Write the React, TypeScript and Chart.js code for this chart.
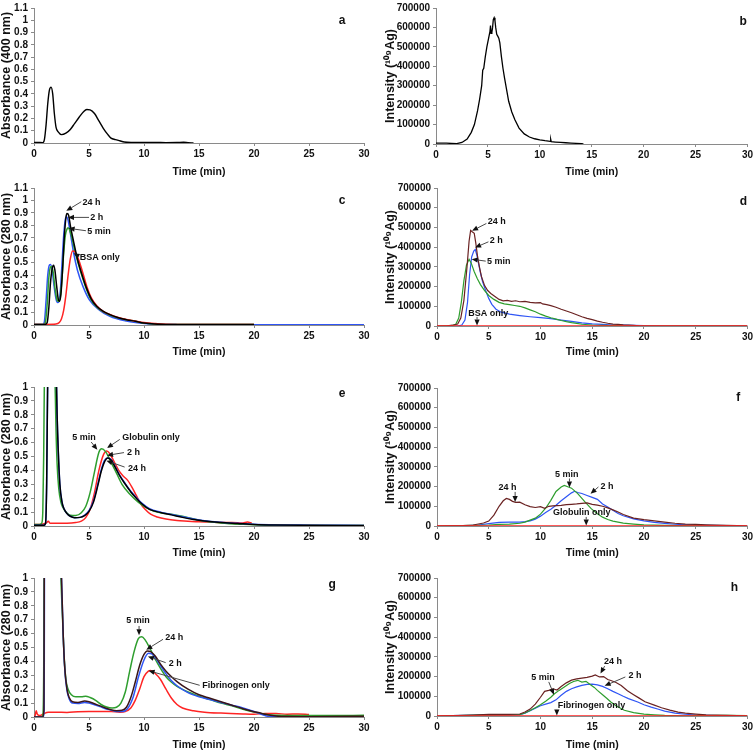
import React, { useEffect, useRef } from "react";
import { Chart, registerables } from "chart.js";
Chart.register(...registerables);

const FONT = "'Liberation Sans', Arial, Helvetica, sans-serif";
const BLACK = "#000000";
const BLUE = "#2f55f5";
const GREEN = "#2e9e2e";
const RED = "#ff2424";
const MAROON = "#6a2222";
const DARK = "#3a1518";

const xTicks = [0, 5, 10, 15, 20, 25, 30];
const absTicks11 = [0, 0.1, 0.2, 0.3, 0.4, 0.5, 0.6, 0.7, 0.8, 0.9, 1, 1.1];
const absTicks10 = [0, 0.1, 0.2, 0.3, 0.4, 0.5, 0.6, 0.7, 0.8, 0.9, 1];
const intTicks = [0, 100000, 200000, 300000, 400000, 500000, 600000, 700000];

// ---------- panel a: absorbance 400 nm
const aTime = [0, 0.4, 0.8, 0.95, 1.1, 1.25, 1.4, 1.55, 1.7, 1.85, 2.0, 2.2, 2.5, 2.9, 3.3, 3.7, 4.1, 4.5, 4.8, 5.1, 5.5, 5.9, 6.3, 6.7, 7.0, 7.4, 7.8, 8.2, 9, 10, 11, 12, 13, 13.6, 14, 14.5];
const aAbs = [0.005, 0.004, 0.003, 0.03, 0.15, 0.32, 0.43, 0.455, 0.4, 0.24, 0.13, 0.09, 0.068, 0.08, 0.11, 0.16, 0.21, 0.255, 0.273, 0.27, 0.24, 0.18, 0.12, 0.07, 0.04, 0.028, 0.018, 0.008, 0.005, 0.004, 0.004, 0.003, 0.004, 0.006, 0.003, 0];

// ---------- panel b: intensity 109Ag
const bTime = [0, 0.5, 1, 1.5, 2, 2.5, 3, 3.4, 3.7, 4.0, 4.2, 4.4, 4.5, 4.6, 4.75, 4.9, 5.05, 5.2, 5.25, 5.3, 5.38, 5.45, 5.52, 5.6, 5.68, 5.75, 5.85, 5.95, 6.05, 6.15, 6.3, 6.45, 6.6, 6.8, 7.0, 7.3, 7.6, 8.0, 8.5, 9.0, 9.5, 10, 10.5, 11.0, 11.05, 11.1, 11.5, 12, 12.5, 13, 13.5, 14, 14.2];
const bInt = [5000, 4000, 4000, 3000, 2000, 8000, 25000, 60000, 100000, 170000, 230000, 300000, 380000, 390000, 450000, 500000, 540000, 580000, 610000, 570000, 575000, 600000, 640000, 650000, 635000, 600000, 565000, 555000, 545000, 520000, 450000, 390000, 340000, 280000, 220000, 165000, 125000, 82000, 52000, 36000, 27000, 21000, 17000, 14000, 24000, 12000, 10000, 8000, 6500, 5000, 3500, 2000, 0];

// ---------- panel c: BSA, absorbance 280 nm
const c24hT = [0, 1.0, 1.2, 1.35, 1.5, 1.65, 1.78, 1.9, 2.05, 2.2, 2.3, 2.45, 2.6, 2.75, 2.9, 3.0, 3.15, 3.3, 3.6, 3.95, 4.45, 4.8, 5.2, 5.7, 6.3, 6.9, 7.6, 8.4, 9.2, 10, 11, 12, 20];
const c24hV = [0.005, 0.005, 0.02, 0.14, 0.34, 0.45, 0.48, 0.44, 0.32, 0.21, 0.19, 0.25, 0.45, 0.7, 0.86, 0.895, 0.88, 0.8, 0.67, 0.53, 0.38, 0.29, 0.21, 0.15, 0.11, 0.083, 0.06, 0.043, 0.03, 0.016, 0.008, 0.005, 0.004];
const c2hT = [0, 0.8, 0.95, 1.1, 1.25, 1.4, 1.5, 1.65, 1.8, 2.0, 2.15, 2.25, 2.4, 2.55, 2.7, 2.85, 2.95, 3.1, 3.3, 3.6, 3.95, 4.45, 5.05, 5.95, 6.9, 8.4, 9.6, 11, 13, 30];
const c2hV = [0.005, 0.005, 0.03, 0.2, 0.4, 0.48, 0.485, 0.44, 0.33, 0.21, 0.18, 0.185, 0.28, 0.5, 0.72, 0.85, 0.87, 0.84, 0.74, 0.58, 0.44, 0.31, 0.2, 0.12, 0.07, 0.032, 0.016, 0.006, 0.003, 0.002];
const c5mT = [0, 0.9, 1.05, 1.2, 1.35, 1.5, 1.6, 1.75, 1.9, 2.1, 2.25, 2.4, 2.55, 2.7, 2.85, 3.0, 3.1, 3.25, 3.45, 3.7, 4.0, 4.45, 4.8, 5.2, 5.7, 6.3, 6.9, 7.6, 8.4, 9.2, 10, 11, 12, 20];
const c5mV = [0.005, 0.005, 0.03, 0.17, 0.38, 0.465, 0.47, 0.42, 0.3, 0.2, 0.19, 0.23, 0.38, 0.58, 0.72, 0.77, 0.78, 0.76, 0.7, 0.6, 0.5, 0.37, 0.28, 0.2, 0.145, 0.105, 0.08, 0.058, 0.042, 0.03, 0.016, 0.008, 0.005, 0.004];
const cBsaT = [0, 1, 2, 2.3, 2.5, 2.7, 2.9, 3.1, 3.3, 3.5, 3.7, 4.0, 4.4, 4.8, 5.2, 5.7, 6.3, 6.9, 7.6, 8.4, 9.2, 10, 11, 12, 14, 16, 18, 20];
const cBsaV = [0.005, 0.005, 0.008, 0.02, 0.05, 0.12, 0.24, 0.4, 0.53, 0.595, 0.59, 0.54, 0.43, 0.31, 0.22, 0.155, 0.11, 0.085, 0.062, 0.045, 0.032, 0.02, 0.012, 0.007, 0.005, 0.005, 0.005, 0.005];

// ---------- panel d: BSA, intensity
const d24hT = [0, 1, 1.5, 2, 2.3, 2.6, 2.9, 3.1, 3.25, 3.4, 3.6, 3.75, 3.9, 4.1, 4.3, 4.6, 4.9, 5.2, 5.6, 6.0, 6.4, 6.8, 7.2, 7.6, 8.0, 8.5, 9.0, 9.5, 10.0, 10.2, 10.6, 11, 11.5, 12, 12.5, 13, 13.5, 14, 14.5, 15, 15.5, 16, 16.5, 17, 17.5, 18, 18.5, 19, 19.5, 20, 30];
const d24hV = [0, 1000, 4000, 10000, 40000, 130000, 300000, 430000, 485000, 478000, 470000, 420000, 360000, 300000, 250000, 205000, 180000, 165000, 150000, 135000, 128000, 130000, 125000, 128000, 123000, 125000, 120000, 117000, 119000, 112000, 108000, 103000, 95000, 85000, 76000, 67000, 57000, 47000, 39000, 32000, 25000, 19000, 14000, 10000, 8000, 6000, 5000, 3000, 1000, 0, 0];
const d2hT = [0, 2, 2.4, 2.7, 2.95, 3.15, 3.35, 3.55, 3.7, 3.85, 4.0, 4.2, 4.4, 4.7, 5.0, 5.3, 5.7, 6.2, 7, 8, 9, 10, 11, 12, 13, 14, 15, 16, 17, 18, 19, 20, 21, 22, 30];
const d2hV = [0, 0, 5000, 30000, 120000, 260000, 350000, 380000, 388000, 360000, 320000, 270000, 225000, 180000, 140000, 110000, 85000, 70000, 60000, 53000, 47000, 42000, 37000, 30000, 23000, 16000, 11000, 8000, 5000, 4000, 3000, 2000, 1000, 0, 0];
const d5mT = [0, 1.5, 1.8, 2.1, 2.35, 2.6, 2.85, 3.1, 3.3, 3.6, 3.9, 4.2, 4.6, 5.0, 5.5, 6.0, 6.5, 7, 7.5, 8, 8.5, 9, 9.5, 10, 10.5, 11, 11.5, 12, 12.5, 13, 13.5, 14, 15, 16, 17, 18, 19, 30];
const d5mV = [0, 2000, 8000, 40000, 120000, 230000, 310000, 338000, 320000, 275000, 240000, 210000, 180000, 155000, 135000, 120000, 112000, 108000, 104000, 100000, 92000, 82000, 72000, 60000, 50000, 42000, 35000, 28000, 22000, 17000, 13000, 9000, 5000, 3000, 2000, 1000, 0, 0];
const dBsaT = [0, 30];
const dBsaV = [0, 0];

// ---------- panel e: globulin, absorbance 280 nm
const e5mT = [0, 0.5, 0.7, 0.8, 0.88, 0.95, 1.1, 1.8, 1.9, 2.0, 2.1, 2.25, 2.45, 2.65, 2.9, 3.3, 3.8, 4.3, 4.7, 5.1, 5.5, 5.9, 6.15, 6.5, 7.0, 7.5, 8.0, 8.7, 9.5, 10.5, 11.5, 12.5, 13.5, 15, 17, 19, 21, 25, 30];
const e5mV = [0.01, 0.01, 0.02, 0.1, 0.5, 1.1, 1.5, 1.5, 1.1, 0.7, 0.45, 0.27, 0.17, 0.13, 0.1, 0.077, 0.075, 0.095, 0.14, 0.24, 0.39, 0.53, 0.555, 0.535, 0.46, 0.38, 0.3, 0.23, 0.17, 0.12, 0.095, 0.085, 0.07, 0.042, 0.022, 0.012, 0.006, 0.004, 0.004];
const eDarkT = [0, 0.9, 1.05, 1.15, 1.25, 1.4, 1.9, 2.0, 2.1, 2.2, 2.35, 2.55, 2.75, 3.0, 3.3, 3.7, 4.2, 4.6, 5.0, 5.4, 5.8, 6.1, 6.4, 6.7, 7.0, 7.4, 7.8, 8.3, 8.8, 9.3, 9.8, 10.5, 11.5, 12.5, 13.5, 14.5, 15.5, 17, 18.5, 20, 22, 25, 30];
const e24hV = [0.005, 0.005, 0.02, 0.3, 1.1, 1.5, 1.5, 1.2, 0.8, 0.55, 0.3, 0.17, 0.12, 0.09, 0.07, 0.06, 0.062, 0.075, 0.105, 0.17, 0.29, 0.39, 0.46, 0.49, 0.475, 0.42, 0.36, 0.3, 0.245, 0.2, 0.16, 0.12, 0.097, 0.08, 0.062, 0.047, 0.036, 0.025, 0.018, 0.011, 0.007, 0.005, 0.004];
const e2hV = [0.005, 0.005, 0.02, 0.3, 1.1, 1.5, 1.5, 1.2, 0.8, 0.55, 0.3, 0.17, 0.12, 0.09, 0.07, 0.06, 0.062, 0.078, 0.11, 0.18, 0.3, 0.4, 0.47, 0.49, 0.48, 0.425, 0.365, 0.305, 0.25, 0.205, 0.165, 0.125, 0.1, 0.083, 0.066, 0.05, 0.038, 0.027, 0.019, 0.012, 0.008, 0.006, 0.004];
const eGloT = [0, 0.5, 0.8, 1.1, 1.3, 1.45, 2, 3, 3.8, 4.3, 4.7, 5.1, 5.5, 5.9, 6.3, 6.6, 6.9, 7.3, 7.7, 8.1, 8.5, 8.9, 9.3, 9.7, 10.1, 10.6, 11.2, 12, 13, 14, 15, 16, 17, 18, 19, 19.4, 19.8];
const eGloV = [0.01, 0.01, 0.015, 0.02, 0.035, 0.02, 0.02, 0.02, 0.025, 0.035, 0.06, 0.12, 0.24, 0.4, 0.51, 0.54, 0.52, 0.46, 0.4, 0.36, 0.33, 0.28, 0.22, 0.16, 0.12, 0.085, 0.065, 0.05, 0.04, 0.035, 0.03, 0.028, 0.025, 0.025, 0.022, 0.028, 0.022];

// ---------- panel f: globulin, intensity
const f24hT = [0, 2.5, 3.5, 4.5, 5.0, 5.5, 6.0, 6.4, 6.7, 7.0, 7.3, 7.6, 8.0, 8.5, 9.0, 9.5, 10.0, 10.4, 10.8, 11.2, 12, 12.5, 13, 13.5, 14, 14.5, 15, 15.5, 16, 16.5, 17, 17.5, 18, 19, 20, 21, 22, 23, 24, 25, 26, 27, 28, 29, 30];
const f24hV = [0, 2000, 5000, 15000, 25000, 55000, 100000, 128000, 140000, 135000, 125000, 120000, 121000, 108000, 98000, 94000, 98000, 90000, 100000, 102000, 105000, 108000, 110000, 112000, 115000, 117000, 110000, 106000, 100000, 92000, 82000, 71000, 58000, 40000, 32000, 26000, 20000, 14000, 10000, 8000, 6000, 4000, 3000, 2000, 0];
const f2hT = [0, 3, 4, 5, 6, 7, 8, 8.5, 9, 9.5, 10, 10.5, 11, 11.5, 12, 12.5, 13, 13.3, 13.6, 14, 14.5, 15, 15.5, 16, 16.5, 17, 17.5, 18, 19, 20, 21, 22, 23, 24, 25, 26, 28, 30];
const f2hV = [0, 2000, 5000, 12000, 18000, 20000, 20000, 22000, 26000, 35000, 50000, 68000, 85000, 105000, 128000, 148000, 168000, 176000, 170000, 165000, 155000, 145000, 135000, 112000, 96000, 80000, 63000, 52000, 36000, 26000, 18000, 13000, 9000, 6000, 4000, 3000, 2000, 0];
const f5mT = [0, 5, 6, 7, 8, 8.5, 9, 9.5, 10, 10.5, 11, 11.5, 12, 12.3, 12.7, 13, 13.6, 14.3, 14.9, 15.5, 16, 16.5, 17, 18, 19, 20, 21, 22, 25, 30];
const f5mV = [0, 5000, 8000, 10000, 14000, 20000, 30000, 40000, 60000, 90000, 130000, 175000, 198000, 206000, 198000, 192000, 164000, 122000, 88000, 62000, 45000, 33000, 25000, 15000, 10000, 6000, 4000, 3000, 1000, 0];
const fGloT = [0, 30];
const fGloV = [0, 0];

// ---------- panel g: fibrinogen, absorbance 280 nm
const g5mT = [0, 0.6, 0.8, 0.88, 0.95, 2.3, 2.45, 2.6, 2.75, 2.9, 3.1, 3.4, 3.8, 4.3, 4.7, 5.1, 5.6, 6.1, 6.6, 7.1, 7.5, 7.9, 8.3, 8.7, 9.1, 9.5, 9.8, 10.1, 10.5, 11, 11.5, 12, 12.5, 13, 14, 15, 16, 17, 18, 19, 20, 21, 22, 24, 27, 30];
const g5mV = [0, 0, 0.01, 0.3, 1.5, 1.5, 1.0, 0.7, 0.42, 0.27, 0.2, 0.16, 0.145, 0.145, 0.15, 0.14, 0.12, 0.09, 0.072, 0.065, 0.07, 0.1, 0.18, 0.33, 0.47, 0.565, 0.578, 0.555, 0.5, 0.42, 0.35, 0.29, 0.25, 0.22, 0.18, 0.15, 0.125, 0.1, 0.08, 0.055, 0.035, 0.02, 0.012, 0.01, 0.01, 0.012];
const g24hT = [0, 0.8, 0.9, 0.95, 2.35, 2.5, 2.65, 2.8, 3.0, 3.2, 3.5, 4.0, 4.6, 5.0, 5.5, 6.0, 6.5, 7.0, 7.5, 8.0, 8.4, 8.8, 9.2, 9.6, 10.0, 10.3, 10.6, 11, 11.5, 12, 12.5, 13, 14, 15, 16, 17, 18, 19, 20, 20.5, 21, 22, 23, 25, 27, 30];
const g24hV = [0, 0, 0.05, 1.5, 1.5, 1.0, 0.6, 0.35, 0.2, 0.14, 0.11, 0.105, 0.115, 0.11, 0.095, 0.08, 0.065, 0.052, 0.045, 0.048, 0.07, 0.14, 0.25, 0.37, 0.45, 0.475, 0.47, 0.44, 0.38, 0.33, 0.29, 0.255, 0.2, 0.16, 0.135, 0.11, 0.085, 0.06, 0.038, 0.03, 0.02, 0.008, 0.003, 0.002, 0.003, 0.006];
const g2hT = [0, 0.85, 0.92, 0.97, 2.35, 2.5, 2.65, 2.8, 3.0, 3.2, 3.5, 4.0, 4.6, 5.0, 5.5, 6.0, 6.5, 7.0, 7.5, 8.0, 8.5, 9.0, 9.5, 10.0, 10.4, 10.7, 11, 11.5, 12, 12.5, 13, 14, 15, 16, 17, 18, 19, 20, 20.5, 21, 21.5, 30];
const g2hV = [0, 0, 0.05, 1.5, 1.5, 1.0, 0.6, 0.34, 0.19, 0.13, 0.1, 0.097, 0.105, 0.1, 0.088, 0.075, 0.06, 0.05, 0.04, 0.04, 0.06, 0.14, 0.29, 0.41, 0.458, 0.455, 0.43, 0.37, 0.31, 0.26, 0.225, 0.175, 0.145, 0.125, 0.105, 0.085, 0.065, 0.04, 0.025, 0.01, 0.002, 0];
const gFibT = [0, 0.1, 0.2, 0.3, 0.5, 0.8, 1.3, 2, 3, 4, 5, 6, 7, 7.8, 8.3, 8.8, 9.2, 9.6, 10, 10.4, 10.6, 11, 11.5, 12, 12.5, 13, 13.5, 14.5, 15.5, 17, 19, 20, 21, 22, 23, 24, 25];
const gFibV = [0, 0.01, 0.045, 0.02, 0.01, 0.02, 0.035, 0.035, 0.033, 0.038, 0.04, 0.04, 0.04, 0.035, 0.04, 0.065, 0.12, 0.2, 0.29, 0.33, 0.335, 0.315, 0.27, 0.2, 0.135, 0.09, 0.065, 0.045, 0.035, 0.028, 0.022, 0.02, 0.025, 0.025, 0.02, 0.022, 0.018];

// ---------- panel h: fibrinogen, intensity
const h24hT = [0, 1.5, 3.5, 5, 6, 7, 8, 8.5, 9, 9.5, 10, 10.4, 10.8, 11.2, 11.6, 12, 12.5, 13, 13.5, 14, 14.5, 15, 15.3, 15.7, 16.1, 16.5, 16.8, 17.3, 17.8, 18.4, 19, 19.5, 20.1, 21, 21.7, 22.5, 23.3, 24, 25, 26, 27, 28, 29, 30];
const h24hV = [0, 2000, 5000, 8000, 9000, 8000, 10000, 20000, 35000, 60000, 95000, 125000, 130000, 138000, 132000, 150000, 168000, 182000, 188000, 192000, 196000, 202000, 208000, 198000, 200000, 185000, 180000, 170000, 155000, 128000, 108000, 92000, 72000, 55000, 42000, 30000, 20000, 15000, 10000, 6000, 4000, 3000, 2000, 0];
const h2hT = [0, 1.5, 4, 7, 8, 8.5, 9, 9.5, 10, 10.5, 11, 11.5, 12, 12.5, 13, 13.5, 14, 14.5, 15, 15.5, 16, 16.5, 17, 17.5, 18, 18.5, 19.4, 20, 20.7, 21.4, 22, 23, 24, 25, 26, 27, 30];
const h2hV = [0, 2000, 4000, 5000, 7000, 14000, 27000, 40000, 52000, 60000, 68000, 82000, 105000, 125000, 138000, 148000, 155000, 160000, 162000, 158000, 150000, 138000, 125000, 113000, 100000, 88000, 71000, 57000, 45000, 34000, 25000, 15000, 9000, 5000, 3000, 2000, 0];
const h5mT = [0, 4, 7, 8, 8.5, 9, 9.5, 10, 10.5, 11, 11.35, 11.8, 12.3, 12.8, 13.2, 13.6, 14, 14.4, 14.8, 15.2, 15.5, 16, 16.4, 16.8, 17.3, 18.1, 19, 20, 21, 22, 24, 26, 28, 30];
const h5mV = [0, 4000, 5000, 7000, 15000, 28000, 42000, 57000, 75000, 95000, 113000, 130000, 147000, 165000, 175000, 181000, 172000, 176000, 160000, 145000, 130000, 108000, 90000, 71000, 52000, 29000, 17000, 10000, 6000, 3000, 1000, 1500, 3000, 2000];
const hFibT = [0, 30];
const hFibV = [0, 0];

type Series = { t: number[]; v: number[]; color: string; width: number };
type Note = { text: string; tx: number; ty: number; fx: number; fy: number; ax: number; ay: number };
type PanelDef = {
  letter: string; lx: number; ly: number;
  yMax: number; yTicks: number[]; yTitle: string; intensity: boolean;
  rect: [number, number, number, number];
  yAxisW: number; xAxisH: number; smooth: boolean;
  series: Series[]; // first = drawn on top
  notes: Note[];
};

const ABS400 = "Absorbance (400 nm)";
const ABS280 = "Absorbance (280 nm)";
const INT = "Intensity (\u00B9\u2070\u2079Ag)";

const panels: PanelDef[] = [
  {
    letter: "a", lx: 28, ly: 1.0, yMax: 1.1, yTicks: absTicks11, yTitle: ABS400, intensity: false,
    rect: [34, 5, 364, 143], yAxisW: 34, xAxisH: 35, smooth: true,
    series: [{ t: aTime, v: aAbs, color: BLACK, width: 1.4 }], notes: [],
  },
  {
    letter: "b", lx: 29.6, ly: 630000, yMax: 700000, yTicks: intTicks, yTitle: INT, intensity: true,
    rect: [436, 5, 749, 144], yAxisW: 52, xAxisH: 34, smooth: false,
    series: [{ t: bTime, v: bInt, color: BLACK, width: 1.3 }], notes: [],
  },
  {
    letter: "c", lx: 28, ly: 1.0, yMax: 1.1, yTicks: absTicks11, yTitle: ABS280, intensity: false,
    rect: [34, 188, 364, 325], yAxisW: 34, xAxisH: 33, smooth: true,
    series: [
      { t: c24hT, v: c24hV, color: BLACK, width: 1.5 },
      { t: cBsaT, v: cBsaV, color: RED, width: 1.5 },
      { t: c5mT, v: c5mV, color: GREEN, width: 1.5 },
      { t: c2hT, v: c2hV, color: BLUE, width: 1.5 },
    ],
    notes: [
      { text: "24 h", tx: 4.4, ty: 0.98, fx: 4.3, fy: 0.99, ax: 2.94, ay: 0.917 },
      { text: "2 h", tx: 5.12, ty: 0.86, fx: 5.0, fy: 0.864, ax: 3.09, ay: 0.864 },
      { text: "5 min", tx: 4.85, ty: 0.747, fx: 4.72, fy: 0.757, ax: 3.15, ay: 0.776 },
      { text: "BSA only", tx: 4.15, ty: 0.544, fx: 4.1, fy: 0.55, ax: 3.6, ay: 0.576 },
    ],
  },
  {
    letter: "d", lx: 29.6, ly: 630000, yMax: 700000, yTicks: intTicks, yTitle: INT, intensity: true,
    rect: [437, 188, 750, 326], yAxisW: 53, xAxisH: 32, smooth: false,
    series: [
      { t: dBsaT, v: dBsaV, color: RED, width: 1.3 },
      { t: d24hT, v: d24hV, color: MAROON, width: 1.2 },
      { t: d5mT, v: d5mV, color: GREEN, width: 1.2 },
      { t: d2hT, v: d2hV, color: BLUE, width: 1.2 },
    ],
    notes: [
      { text: "24 h", tx: 4.9, ty: 529000, fx: 4.77, fy: 520000, ax: 3.39, ay: 483000 },
      { text: "2 h", tx: 5.1, ty: 436000, fx: 4.97, fy: 427000, ax: 3.68, ay: 398000 },
      { text: "5 min", tx: 4.84, ty: 329000, fx: 4.71, fy: 329000, ax: 3.35, ay: 339000 },
      { text: "BSA only", tx: 3.03, ty: 63000, fx: 3.87, fy: 46000, ax: 3.87, ay: 3000 },
    ],
  },
  {
    letter: "e", lx: 28, ly: 0.95, yMax: 1, yTicks: absTicks10, yTitle: ABS280, intensity: false,
    rect: [34, 387, 364, 526], yAxisW: 34, xAxisH: 33, smooth: true,
    series: [
      { t: eDarkT, v: e24hV, color: BLACK, width: 1.5 },
      { t: eDarkT, v: e2hV, color: BLUE, width: 1.5 },
      { t: e5mT, v: e5mV, color: GREEN, width: 1.5 },
      { t: eGloT, v: eGloV, color: RED, width: 1.5 },
    ],
    notes: [
      { text: "5 min", tx: 3.48, ty: 0.638, fx: 5.2, fy: 0.604, ax: 5.76, ay: 0.549 },
      { text: "Globulin only", tx: 8.03, ty: 0.638, fx: 7.8, fy: 0.623, ax: 6.64, ay: 0.561 },
      { text: "2 h", tx: 8.45, ty: 0.532, fx: 8.18, fy: 0.528, ax: 6.64, ay: 0.508 },
      { text: "24 h", tx: 8.55, ty: 0.412, fx: 8.24, fy: 0.424, ax: 6.58, ay: 0.47 },
    ],
  },
  {
    letter: "f", lx: 29.1, ly: 650000, yMax: 700000, yTicks: intTicks, yTitle: INT, intensity: true,
    rect: [437, 388, 750, 526], yAxisW: 53, xAxisH: 33, smooth: false,
    series: [
      { t: fGloT, v: fGloV, color: RED, width: 1.3 },
      { t: f24hT, v: f24hV, color: MAROON, width: 1.2 },
      { t: f5mT, v: f5mV, color: GREEN, width: 1.2 },
      { t: f2hT, v: f2hV, color: BLUE, width: 1.2 },
    ],
    notes: [
      { text: "24 h", tx: 5.94, ty: 195000, fx: 7.55, fy: 173000, ax: 7.55, ay: 122000 },
      { text: "5 min", tx: 11.4, ty: 261000, fx: 12.8, fy: 241000, ax: 12.8, ay: 195000 },
      { text: "2 h", tx: 15.8, ty: 202000, fx: 15.6, fy: 198000, ax: 14.84, ay: 164000 },
      { text: "Globulin only", tx: 11.2, ty: 66000, fx: 14.42, fy: 46000, ax: 14.42, ay: 3000 },
    ],
  },
  {
    letter: "g", lx: 27.1, ly: 0.95, yMax: 1, yTicks: absTicks10, yTitle: ABS280, intensity: false,
    rect: [34, 578, 364, 717], yAxisW: 34, xAxisH: 34, smooth: true,
    series: [
      { t: g24hT, v: g24hV, color: DARK, width: 1.5 },
      { t: g2hT, v: g2hV, color: BLUE, width: 1.5 },
      { t: g5mT, v: g5mV, color: GREEN, width: 1.5 },
      { t: gFibT, v: gFibV, color: RED, width: 1.5 },
    ],
    notes: [
      { text: "5 min", tx: 8.39, ty: 0.693, fx: 9.55, fy: 0.655, ax: 9.55, ay: 0.588 },
      { text: "24 h", tx: 11.94, ty: 0.571, fx: 11.73, fy: 0.559, ax: 10.21, ay: 0.484 },
      { text: "2 h", tx: 12.24, ty: 0.384, fx: 11.97, fy: 0.391, ax: 10.36, ay: 0.436 },
      { text: "Fibrinogen only", tx: 15.3, ty: 0.223, fx: 15.06, fy: 0.228, ax: 10.42, ay: 0.333 },
    ],
  },
  {
    letter: "h", lx: 28.75, ly: 650000, yMax: 700000, yTicks: intTicks, yTitle: INT, intensity: true,
    rect: [437, 578, 750, 716], yAxisW: 53, xAxisH: 35, smooth: false,
    series: [
      { t: hFibT, v: hFibV, color: RED, width: 1.3 },
      { t: h24hT, v: h24hV, color: MAROON, width: 1.2 },
      { t: h5mT, v: h5mV, color: GREEN, width: 1.2 },
      { t: h2hT, v: h2hV, color: BLUE, width: 1.2 },
    ],
    notes: [
      { text: "24 h", tx: 16.13, ty: 275000, fx: 16.2, fy: 253000, ax: 15.8, ay: 215000 },
      { text: "2 h", tx: 18.5, ty: 203000, fx: 18.2, fy: 198000, ax: 16.2, ay: 153000 },
      { text: "5 min", tx: 9.1, ty: 195000, fx: 10.8, fy: 173000, ax: 11.3, ay: 108000 },
      { text: "Fibrinogen only", tx: 11.68, ty: 51000, fx: 11.58, fy: 34000, ax: 11.58, ay: 3000 },
    ],
  },
];

const W = 756;
const H = 752;

function makeDecor(p: PanelDef) {
  return {
    id: "decor" + p.letter,
    afterDatasetsDraw(chart: any) {
      const ctx = chart.ctx as CanvasRenderingContext2D;
      const xs = chart.scales.x;
      const ys = chart.scales.y;
      ctx.save();
      for (const n of p.notes) {
        const x1 = xs.getPixelForValue(n.fx), y1 = ys.getPixelForValue(n.fy);
        const x2 = xs.getPixelForValue(n.ax), y2 = ys.getPixelForValue(n.ay);
        const ang = Math.atan2(y2 - y1, x2 - x1);
        const hl = 6, hw = 2.6;
        const bx = x2 - hl * Math.cos(ang), by = y2 - hl * Math.sin(ang);
        ctx.strokeStyle = "#4a4a4a";
        ctx.lineWidth = 1;
        ctx.beginPath();
        ctx.moveTo(x1, y1);
        ctx.lineTo(bx, by);
        ctx.stroke();
        ctx.fillStyle = "#111";
        ctx.beginPath();
        ctx.moveTo(x2, y2);
        ctx.lineTo(bx - hw * Math.sin(ang), by + hw * Math.cos(ang));
        ctx.lineTo(bx + hw * Math.sin(ang), by - hw * Math.cos(ang));
        ctx.closePath();
        ctx.fill();
        ctx.font = `bold 9px ${FONT}`;
        ctx.textAlign = "left";
        ctx.textBaseline = "middle";
        ctx.fillText(n.text, xs.getPixelForValue(n.tx), ys.getPixelForValue(n.ty));
      }
      ctx.font = `bold 12px ${FONT}`;
      ctx.textAlign = "center";
      ctx.textBaseline = "middle";
      ctx.fillStyle = "#111";
      ctx.fillText(p.letter, xs.getPixelForValue(p.lx), ys.getPixelForValue(p.ly));
      ctx.restore();
    },
  };
}

function buildConfig(p: PanelDef): any {
  const [L, T, R, B] = p.rect;
  const tickFont = { family: FONT, size: 10, weight: "bold" as const, lineHeight: 1 };
  const grid = { display: true, drawOnChartArea: false, drawTicks: true, tickLength: 3, color: "#8a8a8a" };
  const border = { display: true, color: "#8a8a8a", width: 1 };
  const datasets = p.series.map((s, i) => ({
    data: s.t.map((x, k) => ({ x, y: s.v[k] })),
    borderColor: s.color,
    borderWidth: s.width,
    pointRadius: 0,
    fill: false,
    tension: 0,
    cubicInterpolationMode: p.smooth ? "monotone" : "default",
    order: i,
  }));
  return {
    type: "line",
    data: { datasets },
    options: {
      animation: false,
      responsive: false,
      maintainAspectRatio: false,
      events: [],
      layout: { padding: { left: L - p.yAxisW, top: T, right: W - R, bottom: H - B - p.xAxisH } },
      plugins: { legend: { display: false }, tooltip: { enabled: false } },
      scales: {
        x: {
          type: "linear", min: 0, max: 30,
          afterBuildTicks: (s: any) => { s.ticks = xTicks.map((v) => ({ value: v })); },
          ticks: { font: tickFont, color: "#111", padding: 3, maxRotation: 0, autoSkip: false, callback: (v: number) => String(v) },
          grid, border,
          title: { display: true, text: "Time (min)", color: "#111", padding: 0, font: { family: FONT, size: 10.5, weight: "bold", lineHeight: 1.15 } },
          afterFit: (s: any) => { s.height = p.xAxisH; },
        },
        y: {
          type: "linear", min: 0, max: p.yMax,
          afterBuildTicks: (s: any) => { s.ticks = p.yTicks.map((v) => ({ value: v })); },
          ticks: {
            font: tickFont, color: "#111", padding: 3, autoSkip: false,
            callback: (v: number) => (p.intensity ? String(Math.round(v)) : String(Math.round(v * 10) / 10)),
          },
          grid, border,
          title: { display: true, text: p.yTitle, color: "#111", padding: 0, font: { family: FONT, size: 12.5, weight: "bold", lineHeight: 1 } },
          afterFit: (s: any) => { s.width = p.yAxisW; },
        },
      },
    },
    plugins: [makeDecor(p)],
  };
}

function PanelChart({ def }: { def: PanelDef }) {
  const ref = useRef<HTMLCanvasElement | null>(null);
  useEffect(() => {
    if (!ref.current) return;
    const chart = new Chart(ref.current, buildConfig(def));
    return () => chart.destroy();
  }, [def]);
  return (
    <canvas
      ref={ref}
      width={W}
      height={H}
      style={{ position: "absolute", left: 0, top: 0, width: W, height: H, display: "block" }}
    />
  );
}

export default function App() {
  return (
    <div style={{ position: "absolute", left: 0, top: 0, width: W, height: H, background: "#fff", overflow: "hidden" }}>
      {panels.map((p) => (
        <PanelChart key={p.letter} def={p} />
      ))}
    </div>
  );
}
